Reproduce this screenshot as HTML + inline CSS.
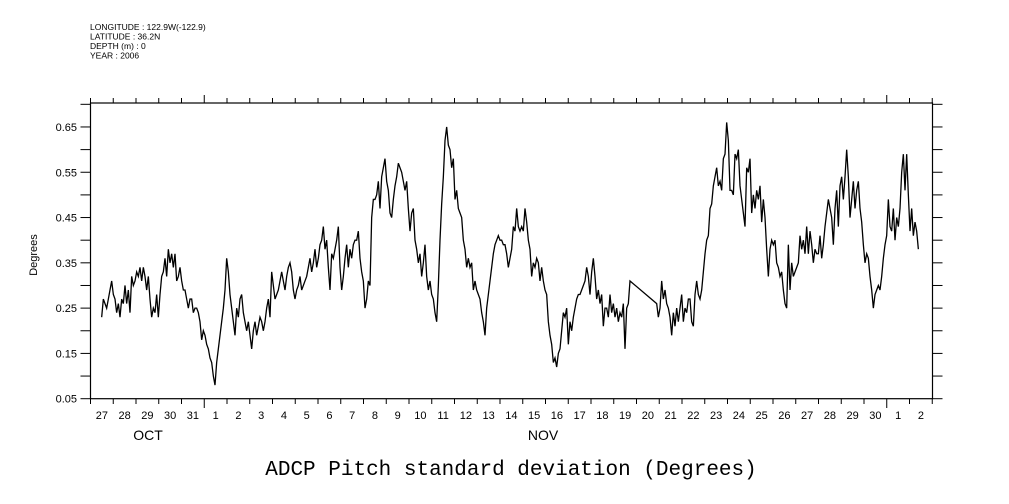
<!DOCTYPE html>
<html><head><meta charset="utf-8"><style>
html,body{margin:0;padding:0;background:#fff;}
svg{display:block;font-family:"Liberation Sans",sans-serif;}
</style></head><body>
<svg id="chart" width="1009" height="504" viewBox="0 0 1009 504">
<g font-size="8.5" fill="#000">
<text x="90" y="30">LONGITUDE : 122.9W(-122.9)</text>
<text x="90" y="39.5">LATITUDE : 36.2N</text>
<text x="90" y="49">DEPTH (m) : 0</text>
<text x="90" y="58.5">YEAR : 2006</text>
</g>
<rect x="90.5" y="103" width="842" height="295.7" fill="none" stroke="#000" stroke-width="1.2"/>
<g id="axes"></g>
<path id="series" fill="none" stroke="#000" stroke-width="1.3" stroke-linejoin="miter"/>
<text x="37" y="255" transform="rotate(-90 37 255)" text-anchor="middle" font-size="11">Degrees</text>
<text x="148" y="440" text-anchor="middle" font-size="14">OCT</text>
<text x="543" y="440" text-anchor="middle" font-size="14">NOV</text>
<text x="511" y="475" text-anchor="middle" font-size="21" font-family="'Liberation Mono',monospace">ADCP Pitch standard deviation (Degrees)</text>
</svg>
<script>
const dayLabels = ["27","28","29","30","31","1","2","3","4","5","6","7","8","9","10","11","12","13","14","15","16","17","18","19","20","21","22","23","24","25","26","27","28","29","30","1","2"];
const yTickLabels = ["0.05","0.15","0.25","0.35","0.45","0.55","0.65"];
const sampleStepDays = 0.07326;
const seg1StartDay = 0.491;
const seg1Values = [
.23,.27,.26,.25,.27,.29,.31,.28,.27,.24,.26,.23,.27,.26,.30,.26,.29,.24,.32,.30,.31,.33,.32,.34,.31,.34,.32,.29,.32,.27,.23,.25,.24,.28,.23,.28,.32,.33,.36,.32,.38,.35,.37,.34,.37,.31,.32,.34,.31,.29,.29,.27,.25,.27,.27,.24,.25,.25,.24,.22,.18,.20,.19,.17,.16,.14,.13,.10,.08,.13,.16,.19,.22,.25,.29,.36,.33,.28,.25,.22,.19,.25,.23,.27,.28,.24,.22,.20,.22,.19,.16,.20,.22,.19,.21,.23,.22,.20,.22,.25,.27,.23,.33,.30,.27,.28,.29,.31,.33,.31,.29,.32,.34,.35,.33,.29,.27,.29,.30,.32,.29,.30,
.31,.32,.34,.36,.33,.35,.38,.34,.36,.39,.40,.43,.38,.40,.34,.29,.37,.36,.38,.40,.43,.34,.29,.32,.36,.39,.34,.38,.36,.39,.40,.40,.42,.36,.33,.31,.25,.27,.31,.30,.45,.49,.49,.50,.53,.47,.54,.56,.58,.53,.51,.46,.45,.49,.52,.54,.57,.56,.55,.53,.51,.53,.47,.42,.46,.47,.40,.38,.35,.37,.32,.35,.39,.32,.29,.31,.28,.27,.24,.22,.30,.40,.48,.54,.62,.65,.61,.60,.56,.58,.49,.51,.47,.46,.45,.40,.38,.34,.36,.34,.35,.29,.31,.29,.28,.27,.24,.22,.19,.25,.28,.31,.34,.37,.39,.40,.41,.40,.40,.39,.39,.37,.34,.36,.38,.43,
.42,.47,.43,.42,.43,.42,.47,.44,.40,.38,.32,.35,.34,.36,.35,.31,.34,.31,.29,.28,.22,.19,.17,.13,.14,.12,.15,.16,.20,.24,.23,.25,.17,.22,.20,.23,.25,.27,.28,.28,.29,.30,.31,.34,.32,.28,.33,.36,.32,.27,.29,.26,.28,.21,.25,.25,.23,.28,.24,.26,.23,.25,.22,.24,.23,.26,.16,.25,.26,.31];
const seg2StartDay = 24.887;
const seg2Values = [
.26,.23,.25,.31,.27,.29,.26,.25,.23,.19,.24,.21,.25,.22,.25,.28,.22,.25,.24,.27,.27,.22,.21,.28,.31,.28,.27,.29,.33,.37,.40,.41,.47,.48,.52,.54,.56,.52,.53,.51,.58,.59,
.66,.62,.51,.51,.50,.59,.58,.60,.52,.49,.46,.43,.56,.55,.58,.46,.50,.47,.51,.49,.52,.44,.49,.45,.38,.32,.38,.40,.39,.40,.35,.34,.32,.33,.29,.26,.25,.39,.29,.35,.32,.33,.34,.35,.41,.38,.40,.37,.43,.37,.42,.39,.35,.38,.37,.37,.41,.36,.39,.43,.46,.49,.47,.45,.39,.47,.51,.43,.52,.54,.49,.54,.60,.54,.45,.49,.53,.47,.51,.53,.47,.44,.39,.35,.37,.36,.32,.29,.25,.28,.29,.30,.29,.32,.36,.39,.41,.49,.43,.42,.47,.40,.45,.43,.47,.55,.59,.51,.59,.50,.42,.47,.41,.44,.42,.38];

const X0 = 90.5, DAYW = 22.75, YBOT = 398.7, PXPER = 452.9;
function xScale(day){ return X0 + DAYW*day; }
function yScale(v){ return YBOT - (v-0.05)*PXPER; }

const NS = "http://www.w3.org/2000/svg";
const axes = document.getElementById('axes');
function line(x1,y1,x2,y2,name){
  const l = document.createElementNS(NS,'line');
  l.setAttribute('x1',x1); l.setAttribute('y1',y1); l.setAttribute('x2',x2); l.setAttribute('y2',y2);
  l.setAttribute('stroke','#000'); l.setAttribute('stroke-width','1');
  
  
  axes.appendChild(l);
}
function text(x,y,s,anchor,size,name){
  const t = document.createElementNS(NS,'text');
  t.setAttribute('x',x); t.setAttribute('y',y); t.setAttribute('text-anchor',anchor); t.setAttribute('font-size',size);
  t.textContent = s;
  
  
  axes.appendChild(t);
}
for(let k=0;k<=13;k++){
  const v = 0.05 + k*0.05;
  const y = yScale(v);
  if (y < 103) break;
  line(80.5,y,90.5,y,'y-tick');
  line(932.5,y,942.5,y,'y-tick-right');
}
yTickLabels.forEach(s=>{
  text(77, yScale(parseFloat(s))+4, s, 'end', 11, 'y-tick-label');
});
for(let d=0; d<=37; d++){
  const x = xScale(d);
  const month = (d===5 || d===35);
  line(x,398.7,x,month?408:404,'x-tick');
  line(x,103,x,month?95:98,'x-tick-top');
}
dayLabels.forEach((s,i)=>{
  text(xScale(i+0.5), 419, s, 'middle', 11, 'x-tick-label');
});
let d = '';
seg1Values.forEach((v,i)=>{
  d += (i===0?'M':'L') + xScale(seg1StartDay + i*sampleStepDays).toFixed(2) + ' ' + yScale(v).toFixed(2) + ' ';
});
seg2Values.forEach((v,i)=>{
  d += 'L' + xScale(seg2StartDay + i*sampleStepDays).toFixed(2) + ' ' + yScale(v).toFixed(2) + ' ';
});
document.getElementById('series').setAttribute('d', d);
</script>
</body></html>
